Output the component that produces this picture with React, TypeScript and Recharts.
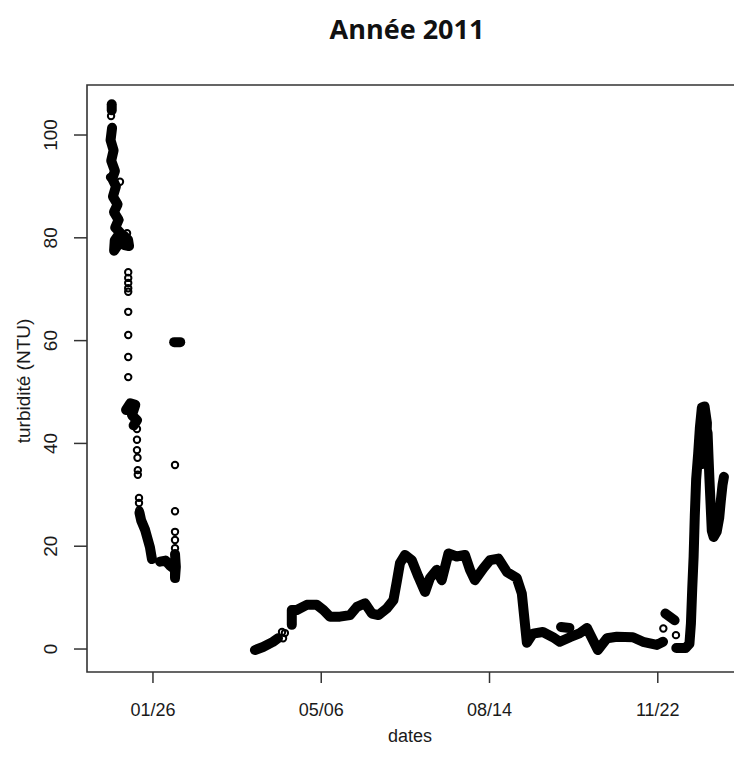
import { ComposedChart, Line, Scatter, XAxis, YAxis, ReferenceArea } from "recharts";

// day of year (x) / turbidity NTU (y)
const tickDays = [26, 126, 226, 326];
const tickLabels = ["01/26", "05/06", "08/14", "11/22"];
const yTicks = [0, 20, 40, 60, 80, 100];

// dense stretches (overlapping circles -> drawn as a thick trace)
const janTop = [[1.5, 106], [1.5, 104.8]];
const janBand = [[1.7, 101.4], [0.8, 99], [2.6, 97], [1.2, 95], [3.4, 93], [1.8, 91.5], [4, 90], [2.2, 88], [5, 86.5], [2.8, 85], [5.6, 83.5], [3.6, 82], [6.5, 81], [3.3, 79.5], [2.9, 77.5], [5, 78.5], [8.8, 80.4], [11.2, 79.6], [11.8, 78.4], [9, 78.6]];
const janBlock = [[10, 46.5], [12.5, 47.8], [15.5, 47.5], [13.5, 45.5], [16.5, 44.5], [14.5, 43.5]];
const janSlope = [[18, 26.5], [19, 25], [21.3, 23.2], [24.2, 19.8], [25.4, 17.5]];
const febBlob = [[30.2, 17], [33.5, 17.2], [36.2, 16.2], [39.1, 15.5], [39.1, 13.8], [39.6, 16], [39.1, 18.5]];
const febDash = [[38.6, 59.7], [42.2, 59.7]];
const springStart = [[86.6, -0.2], [91.4, 0.4], [97.3, 1.4], [100.3, 2.1]];
const mainRun = [[108.5, 4.7], [108.5, 7.6], [111.5, 7.6], [117.4, 8.6], [123.3, 8.6], [127.3, 7.6], [131.2, 6.3], [137.1, 6.3], [143.1, 6.6], [147.2, 8.2], [152, 8.9], [156.1, 6.9], [160, 6.6], [165, 7.9], [168.9, 9.5], [170.9, 13.1], [172.8, 16.7], [175.8, 18.3], [179.8, 17.3], [183.7, 14.1], [187.7, 11.1], [190.6, 13.8], [194.6, 15.4], [197.6, 13.4], [201.6, 18.6], [206.5, 18], [211.4, 18.3], [214.4, 15.4], [217.3, 13.4], [222.3, 15.7], [226.3, 17.3], [231.3, 17.6], [236.3, 15], [242.2, 13.8], [245.2, 10.8], [248.2, 1.2], [251.8, 3], [257.7, 3.3], [263.7, 2.3], [267.8, 1.4], [273.8, 2.3], [279.8, 3.1], [283.9, 4.1], [290.4, -0.2], [295.8, 2.1], [301.7, 2.4], [311.2, 2.3], [317.2, 1.4], [325.5, 0.8], [329.1, 1.4]];
const autumnDash = [[268.5, 4.3], [273.5, 4.1]];
const novDash = [[330.5, 6.9], [336, 5.6]];
const decSpike = [[337, 0.2], [342.5, 0.2], [344.8, 1], [345.7, 5], [346.5, 12], [347.3, 18], [348, 26], [348.8, 33], [350, 38], [351, 43], [352.2, 47], [353.8, 47.2], [355.2, 44], [354.8, 39], [352.6, 36], [351.6, 41], [353.4, 45], [355.6, 42], [356.2, 37], [356.7, 33], [357.4, 28], [358.1, 23], [359.2, 21.8], [361, 22.8], [362.5, 25.5], [363.5, 29], [364.5, 32], [365.3, 33.5]];

// isolated open circles
const janCircles = [[1.1, 103.7], [0.5, 91.8], [6.4, 90.9], [10.6, 80.9], [11.3, 73.3], [11.3, 72.2], [11.3, 71.2], [11.3, 70.2], [11.3, 69.5], [11.3, 65.6], [11.3, 61.1], [11.3, 56.8], [11.3, 52.9], [16.5, 42.8], [16.5, 40.7], [16.5, 38.7], [16.8, 37.2], [17, 34.8], [17, 33.9], [17.7, 29.4], [17.7, 28.4], [17.9, 27]];
const febCircles = [[39.1, 35.8], [39.1, 26.8], [39.1, 22.8], [39.1, 21.2], [39.1, 19.6]];
const springCircles = [[102.7, 3.3], [104.4, 3.1], [103.3, 2.1]];
const novCircles = [[329.3, 4.0], [336.8, 2.7]];

const xMin = -13.2;
const xMax = 380.8;
const yMin = -4.47;
const yMax = 109.73;

const toPts = (a: number[][]) => a.map(([d, v]) => ({ d, v }));

const dense = [janTop, janBand, janBlock, janSlope, febBlob, febDash, springStart, mainRun, autumnDash, novDash, decSpike];
const open = [janCircles, febCircles, springCircles, novCircles];

const font = "'Liberation Sans', Arial, sans-serif";

const OpenCircle = (p: any) => (
  <circle cx={p.cx} cy={p.cy} r={3.2} fill="none" stroke="#000" strokeWidth={2} />
);

const XTick = (p: any) => {
  const i = tickDays.indexOf(p.payload.value);
  return (
    <text x={p.x} y={710} textAnchor="middle" dominantBaseline="central" fontSize={18} fontFamily={font} fill="#1a1a1a">
      {tickLabels[i]}
    </text>
  );
};

const YTick = (p: any) => (
  <text
    transform={`translate(50.5,${p.y}) rotate(-90)`}
    textAnchor="middle"
    dominantBaseline="central"
    fontSize={19}
    fontFamily={font}
    fill="#1a1a1a"
  >
    {p.payload.value}
  </text>
);

export default function App() {
  return (
    <div style={{ position: "absolute", left: 0, top: 0, width: 734, height: 767, overflow: "hidden", background: "#fff" }}>
      <ComposedChart width={760} height={767} margin={{ top: 85, right: 10, left: 0, bottom: 0 }}>
        <XAxis
          type="number"
          dataKey="d"
          domain={[xMin, xMax]}
          ticks={tickDays}
          allowDataOverflow
          height={95}
          axisLine={false}
          tickLine={{ stroke: "#333", strokeWidth: 1.5 }}
          tickSize={11}
          tick={XTick}
        />
        <YAxis
          type="number"
          domain={[yMin, yMax]}
          ticks={yTicks}
          allowDataOverflow
          width={87}
          axisLine={false}
          tickLine={{ stroke: "#333", strokeWidth: 1.5 }}
          tickSize={13}
          tick={YTick}
        />
        <ReferenceArea x1={xMin} x2={xMax} y1={yMin} y2={yMax} fill="none" fillOpacity={0} stroke="#333" strokeWidth={1.6} ifOverflow="visible" />
        {dense.map((seg, i) => (
          <Line
            key={"l" + i}
            data={toPts(seg)}
            dataKey="v"
            type="linear"
            stroke="#000"
            strokeWidth={10}
            strokeLinecap="round"
            strokeLinejoin="round"
            dot={false}
            activeDot={false}
            isAnimationActive={false}
          />
        ))}
        {open.map((seg, i) => (
          <Scatter key={"s" + i} data={toPts(seg)} dataKey="v" shape={OpenCircle} isAnimationActive={false} />
        ))}
      </ComposedChart>
      <svg width={734} height={767} style={{ position: "absolute", left: 0, top: 0, pointerEvents: "none" }}>
        <text x={407} y={39} textAnchor="middle" fontSize={27} fontWeight="bold" fontFamily="'Open Sans', sans-serif" fill="#111">
          Année 2011
        </text>
        <text transform="translate(23,381) rotate(-90)" textAnchor="middle" dominantBaseline="central" fontSize={19} fontFamily={font} fill="#1a1a1a">
          turbidité (NTU)
        </text>
        <text x={410} y={736} textAnchor="middle" dominantBaseline="central" fontSize={18} fontFamily={font} fill="#1a1a1a">
          dates
        </text>
      </svg>
    </div>
  );
}
